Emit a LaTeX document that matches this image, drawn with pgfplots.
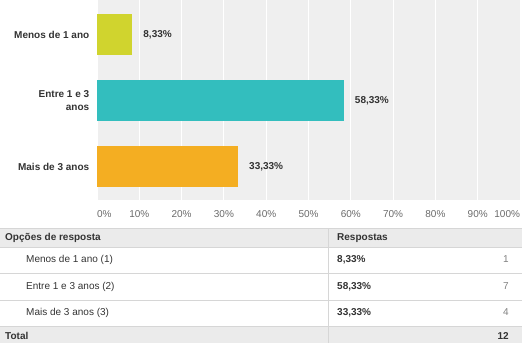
\documentclass[border=0pt]{standalone}
\usepackage{fontspec}
\setmainfont{Liberation Sans}
\usepackage{pgfplots}
\usepackage{pgfplotstable}
\pgfplotsset{compat=1.18}

\definecolor{barA}{HTML}{D0D42E}
\definecolor{barB}{HTML}{33BEBE}
\definecolor{barC}{HTML}{F4AE22}
\definecolor{plotbg}{HTML}{EFEFEF}
\definecolor{txt}{HTML}{333333}
\definecolor{ticktxt}{HTML}{6A6A6A}
\definecolor{cnt}{HTML}{808080}
\definecolor{rulec}{HTML}{D6D6D6}
\definecolor{headbg}{HTML}{EBEBEB}

% answer options: position on the y axis, share in percent, number of answers
\pgfplotstableread{
pos pct count
2 8.33 1
1 58.33 7
0 33.33 4
}\resp

\pgfkeys{/pgf/number format/.cd, use comma, fixed, fixed zerofill, precision=2, assume math mode=true}

\newcommand\fs{\fontsize{10bp}{12.5bp}\selectfont}
\newcommand\pctof[1]{\pgfplotstablegetelem{#1}{pct}\of\resp\pgfmathprintnumber{\pgfplotsretval}\%}
\newcommand\cntof[1]{\pgfplotstablegetelem{#1}{count}\of\resp\pgfmathprintnumber[int detect]{\pgfplotsretval}}

\begin{document}
\begin{tikzpicture}[x=1bp,y=1bp,font=\fs]
\begin{axis}[
  at={(97bp,-200bp)}, anchor=south west,
  scale only axis, width=423bp, height=200bp,
  xbar, bar width=41bp, bar shift=0pt,
  xmin=0, xmax=100, ymin=-0.508, ymax=2.523,
  axis background/.style={fill=plotbg},
  axis line style={draw=none},
  xmajorgrids, major grid style={white, line width=1pt},
  xtick={0,10,...,100},
  xticklabels={\rlap{0\%},10\%,20\%,30\%,40\%,50\%,60\%,70\%,80\%,90\%,\llap{100\%}},
  ytick={0,1,2},
  yticklabels={Mais de 3 anos,{Entre 1 e 3\\anos},Menos de 1 ano},
  tick style={draw=none},
  /pgf/number format/assume math mode=true,
  xticklabel style={color=ticktxt, anchor=north, yshift=-7bp, font=\fs},
  yticklabel style={color=txt, align=right, xshift=0bp, font=\fs\bfseries},
  nodes near coords={\pgfmathprintnumber{\pgfplotspointmeta}\%},
  nodes near coords style={anchor=west, inner sep=0pt, xshift=11bp, color=txt, font=\fs\bfseries},
  point meta=x,
]
\addplot[fill=barA, draw=none] table[x=pct, y=pos, skip coords between index={1}{3}] {\resp};
\addplot[fill=barB, draw=none] table[x=pct, y=pos, skip coords between index={0}{1}, skip coords between index={2}{3}] {\resp};
\addplot[fill=barC, draw=none] table[x=pct, y=pos, skip coords between index={0}{2}] {\resp};
\end{axis}

% summary table under the chart
\fill[headbg] (0,-228) rectangle (522,-247);
\fill[headbg] (0,-326) rectangle (522,-343);
\foreach \yy in {228,247,273,300,326} \draw[rulec, line width=0.8bp] (0,-\yy) -- (522,-\yy);
\draw[rulec, line width=0.8bp] (328,-228) -- (328,-343);

\node[anchor=west, inner sep=0, color=txt, font=\fs\bfseries] at (5,-238) {Opções de resposta};
\node[anchor=west, inner sep=0, color=txt, font=\fs\bfseries] at (337,-238) {Respostas};

\node[anchor=west, inner sep=0, color=txt] at (26,-259.5) {Menos de 1 ano (1)};
\node[anchor=west, inner sep=0, color=txt] at (26,-286.5) {Entre 1 e 3 anos (2)};
\node[anchor=west, inner sep=0, color=txt] at (26,-312.5) {Mais de 3 anos (3)};

\node[anchor=west, inner sep=0, color=txt, font=\fs\bfseries] at (337,-259.5) {\pctof{0}};
\node[anchor=west, inner sep=0, color=txt, font=\fs\bfseries] at (337,-286.5) {\pctof{1}};
\node[anchor=west, inner sep=0, color=txt, font=\fs\bfseries] at (337,-312.5) {\pctof{2}};

\node[anchor=east, inner sep=0, color=cnt] at (509,-259.5) {\cntof{0}};
\node[anchor=east, inner sep=0, color=cnt] at (509,-286.5) {\cntof{1}};
\node[anchor=east, inner sep=0, color=cnt] at (509,-312.5) {\cntof{2}};

\node[anchor=west, inner sep=0, color=txt, font=\fs\bfseries] at (5,-335.5) {Total};
\node[anchor=east, inner sep=0, color=txt, font=\fs\bfseries] at (509,-335.5) {12};

\pgfresetboundingbox
\useasboundingbox (0,-343) rectangle (522,0);
\end{tikzpicture}
\end{document}
